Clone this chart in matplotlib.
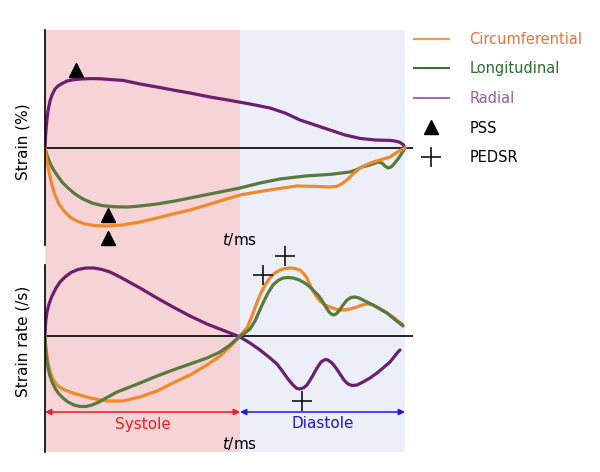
import matplotlib.pyplot as plt
from matplotlib.lines import Line2D

# 시간축 (ms) 및 심주기 구간
T_ES = 487.5   # 수축기 끝
T_END = 900.0  # 심주기 끝

# --- Strain (%) ---
t_rad_s = [0, 1, 2.5, 5, 7.5, 12.5, 17.5, 25, 32.5, 42.5, 55, 70, 90, 115, 140, 165, 195,
           237.5, 280, 325, 362.5, 412.5, 462.5, 512.5, 562.5, 600, 637.5, 675, 712.5, 750,
           787.5, 825, 862.5, 877.5, 887.5, 895, 900]
v_rad_s = [0, 2.5, 4.5, 7.25, 9.25, 11.75, 13.25, 14.75, 15.5, 16.1, 16.75, 17.05, 17.25,
           17.35, 17.3, 17.1, 16.9, 16, 15.25, 14.4, 13.75, 12.75, 11.9, 11, 10, 8.75, 7,
           5.75, 4.5, 3.25, 2.4, 2.0, 1.9, 1.7, 1.4, 0.9, 0]

t_lon_s = [0, 2.5, 7.5, 12.5, 20, 30, 42.5, 57.5, 75, 95, 117.5, 142.5, 175, 207.5, 237.5,
           280, 325, 362.5, 425, 487.5, 537.5, 587.5, 650, 712.5, 762.5, 777.5, 792.5,
           812.5, 832.5, 842.5, 850, 857.5, 865, 872.5, 882.5, 892.5, 900]
v_lon_s = [0, -1, -2.5, -3.75, -5.25, -6.75, -8.5, -10, -11.5, -12.75, -13.75, -14.4,
           -14.7, -14.75, -14.5, -14, -13.25, -12.5, -11.25, -10, -8.75, -7.75, -7, -6.6,
           -6, -5.5, -4.75, -4.25, -3.5, -3.75, -4.5, -5, -4.75, -4, -2.75, -1.25, 0]

t_cir_s = [0, 2.5, 5, 10, 17.5, 25, 35, 47.5, 62.5, 80, 100, 125, 155, 195, 237.5, 280, 320,
           362.5, 405, 445, 487.5, 545, 587.5, 630, 675, 712.5, 730, 745, 757.5, 772.5,
           787.5, 802.5, 817.5, 837.5, 862.5, 877.5, 890, 900]
v_cir_s = [0, -1.75, -3.5, -6, -9.25, -11.75, -14, -15.75, -17.25, -18.25, -19, -19.4,
           -19.5, -19.25, -18.5, -17.5, -16.5, -15.5, -14.25, -13, -11.75, -10.75, -10.1,
           -9.5, -9.6, -9.75, -9.6, -8.75, -7.75, -6.25, -5, -4.25, -3.6, -3, -2.25, -1.25,
           -0.5, 0]

# PSS (최대 수축기 strain) 표시 위치
pss_t = [77.5, 157.5, 157.5]
pss_v = [19.5, -16.75, -22.5]

# --- Strain rate (/s) ---
t_rad_r = [0, 1, 2.5, 5, 10, 17.5, 27.5, 37.5, 50, 65, 82.5, 102.5, 122.5, 142.5, 162.5,
           187.5, 237.5, 280, 320, 362.5, 405, 450, 487.5, 512.5, 537.5, 562.5, 580, 595,
           607.5, 620, 630, 637.5, 647.5, 655, 667.5, 680, 690, 700, 707.5, 717.5, 727.5,
           737.5, 747.5, 757.5, 767.5, 780, 795, 812.5, 830, 845, 862.5, 882.5, 887.5]
v_rad_r = [0, 0.2, 0.34, 0.48, 0.64, 0.8, 0.96, 1.08, 1.18, 1.27, 1.33, 1.36, 1.36, 1.33,
           1.28, 1.18, 0.96, 0.76, 0.58, 0.4, 0.24, 0.1, -0.02, -0.14, -0.28, -0.44, -0.56,
           -0.72, -0.86, -0.98, -1.05, -1.06, -1.03, -0.98, -0.82, -0.64, -0.52, -0.47,
           -0.48, -0.54, -0.64, -0.76, -0.88, -0.96, -0.99, -0.98, -0.92, -0.84, -0.74,
           -0.64, -0.52, -0.32, -0.28]

t_cir_r = [0, 1, 2.5, 5, 8.75, 13.75, 20, 27.5, 37.5, 50, 70, 112.5, 155, 195, 237.5, 280,
           320, 362.5, 405, 437.5, 462.5, 487.5, 497.5, 505, 517.5, 527.5, 537.5, 550,
           562.5, 575, 587.5, 600, 612.5, 625, 637.5, 647.5, 655, 662.5, 670, 677.5, 687.5,
           700, 712.5, 730, 745, 762.5, 780, 792.5, 805, 817.5, 830, 842.5, 855, 870,
           882.5, 895]
v_cir_r = [0, -0.12, -0.24, -0.4, -0.58, -0.74, -0.86, -0.96, -1.03, -1.08, -1.14, -1.24,
           -1.3, -1.3, -1.22, -1.1, -0.94, -0.78, -0.58, -0.4, -0.22, 0, 0.1, 0.16, 0.4,
           0.62, 0.82, 1.02, 1.16, 1.26, 1.32, 1.35, 1.36, 1.35, 1.32, 1.24, 1.16, 1.02,
           0.9, 0.8, 0.7, 0.62, 0.58, 0.53, 0.52, 0.54, 0.58, 0.62, 0.64, 0.63, 0.58,
           0.52, 0.46, 0.38, 0.3, 0.22]

t_lon_r = [0, 1, 2.5, 5, 8.75, 12.5, 18.75, 26.25, 35, 45, 57.5, 72.5, 87.5, 102.5, 117.5,
           135, 155, 180, 212.5, 237.5, 280, 320, 362.5, 405, 437.5, 462.5, 487.5, 500,
           512.5, 525, 535, 545, 557.5, 570, 582.5, 595, 607.5, 620, 632.5, 645, 655, 662.5,
           672.5, 682.5, 690, 697.5, 705, 712.5, 720, 727.5, 735, 745, 755, 765, 775, 785,
           795, 807.5, 820, 837.5, 855, 870, 882.5, 895]
v_lon_r = [0, -0.18, -0.32, -0.52, -0.68, -0.8, -0.94, -1.06, -1.16, -1.24, -1.32, -1.38,
           -1.41, -1.41, -1.38, -1.32, -1.23, -1.12, -1.02, -0.94, -0.8, -0.68, -0.56,
           -0.44, -0.32, -0.18, 0, 0.06, 0.14, 0.3, 0.48, 0.66, 0.86, 1.02, 1.11, 1.16,
           1.17, 1.16, 1.13, 1.08, 1.03, 0.98, 0.9, 0.82, 0.74, 0.64, 0.54, 0.46, 0.42,
           0.44, 0.5, 0.62, 0.72, 0.77, 0.78, 0.76, 0.72, 0.67, 0.62, 0.54, 0.46, 0.36,
           0.28, 0.2]

# PEDSR (최대 이완기 strain rate) 표시 위치
pedsr_t = [545, 600, 642.5]
pedsr_v = [1.22, 1.6, -1.3]

ORANGE = "#ef8a2c"
GREEN = "#587a3a"
PURPLE = "#6b1f6e"
PINK = "#f5d3d6"
BLUE = "#eceef8"

fig = plt.figure(figsize=(6, 4.72), dpi=100)
W, H = 600.0, 472.0


def box(x0, y0, x1, y1):
    # 픽셀 좌표(위가 0) -> figure 비율
    return [x0 / W, 1 - y1 / H, (x1 - x0) / W, (y1 - y0) / H]


XLIM = (0, 920)

# 배경 (수축기/이완기)
bg = fig.add_axes(box(45, 30, 413, 452))
bg.axvspan(0, T_ES, color=PINK, lw=0)
bg.axvspan(T_ES, T_END, color=BLUE, lw=0)
bg.set_xlim(*XLIM)
bg.set_ylim(0, 1)
bg.axis("off")

ax1 = fig.add_axes(box(45, 30, 413, 245))
ax2 = fig.add_axes(box(45, 265, 413, 452))
for ax in (ax1, ax2):
    ax.patch.set_visible(False)
    for s in ("top", "right", "bottom"):
        ax.spines[s].set_visible(False)
    ax.spines["left"].set_linewidth(1.2)
    ax.set_xticks([])
    ax.set_yticks([])
    ax.set_xlim(*XLIM)
    ax.axhline(0, color="black", lw=1.2, zorder=1)

ax1.set_ylim(-24.25, 29.5)
ax2.set_ylim(-2.32, 1.42)

style = dict(lw=2.3, solid_capstyle="round", solid_joinstyle="round")
ax1.plot(t_rad_s, v_rad_s, color=PURPLE, **style)
ax1.plot(t_lon_s, v_lon_s, color=GREEN, **style)
ax1.plot(t_cir_s, v_cir_s, color=ORANGE, **style)
ax1.plot(pss_t, pss_v, "^", color="black", ms=10, ls="none", clip_on=False)

ax2.plot(t_rad_r, v_rad_r, color=PURPLE, **style)
ax2.plot(t_cir_r, v_cir_r, color=ORANGE, **style)
ax2.plot(t_lon_r, v_lon_r, color=GREEN, **style)
ax2.plot(pedsr_t, pedsr_v, "+", color="black", ms=15, mew=1.1, ls="none", clip_on=False)

# 수축기 / 이완기 화살표
arr_y = -1.52
ax2.annotate("", xy=(T_ES, arr_y), xytext=(0, arr_y),
             arrowprops=dict(arrowstyle="<|-|>", color="#ee1c25", lw=1.1, mutation_scale=9,
                             shrinkA=0, shrinkB=0))
ax2.annotate("", xy=(T_END, arr_y), xytext=(T_ES, arr_y),
             arrowprops=dict(arrowstyle="<|-|>", color="#1a1ad8", lw=1.1, mutation_scale=9,
                             shrinkA=0, shrinkB=0))
ax2.text(T_ES / 2, -1.76, "Systole", color="#ee1c25", fontsize=11, ha="center", va="center")
ax2.text((T_ES + T_END) / 2, -1.76, "Diastole", color="#1a1ad8", fontsize=11,
         ha="center", va="center")

ax1.text(T_ES, -23, r"$t$/ms", fontsize=11, ha="center", va="center", clip_on=False)
ax2.text(T_ES, -2.16, r"$t$/ms", fontsize=11, ha="center", va="center", clip_on=False)

fig.text(23 / W, 1 - 142 / H, "Strain (%)", rotation=90, fontsize=11, ha="center", va="center")
fig.text(23 / W, 1 - 341 / H, "Strain rate (/s)", rotation=90, fontsize=11,
         ha="center", va="center")

# 범례
handles = [
    Line2D([], [], color="#f39a4a", lw=1.5),
    Line2D([], [], color="#3d6e34", lw=1.5),
    Line2D([], [], color="#a26fa8", lw=1.5),
    Line2D([], [], marker="^", color="black", ms=10, ls="none"),
    Line2D([], [], marker="+", color="black", ms=15, mew=1.1, ls="none"),
]
labels = ["Circumferential", "Longitudinal", "Radial", "PSS", "PEDSR"]
fig.legend(handles, labels, loc="upper left", bbox_to_anchor=(408 / W, 1 - 26 / H),
           frameon=False, fontsize=10.5, handlelength=2.4, handletextpad=1.4,
           labelspacing=1.0, borderaxespad=0,
           labelcolor=["#f0703c", "#2e6b30", "#9c5ea0", "black", "black"])

fig.savefig("out.png", dpi=100)
